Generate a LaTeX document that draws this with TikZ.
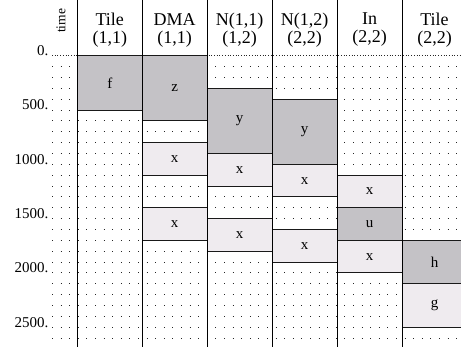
\documentclass[tikz,border=0pt]{standalone}
\usepackage{fontspec}
\setmainfont{Liberation Serif}
\definecolor{boxgray}{HTML}{C4C2C6}
\definecolor{boxlight}{HTML}{EFEBEF}
\tikzset{
  gridrow/.style={line width=0.8pt, black!85, dash pattern=on 0.9pt off 7.7pt},
  zerorow/.style={line width=0.8pt, black!85, dash pattern=on 0.9pt off 1.8pt},
  colline/.style={line width=0.9pt, black},
  boxline/.style={line width=0.9pt, black!90},
  hdr/.style={font=\fontsize{18}{18}\selectfont, align=center, inner sep=0pt},
  boxlbl/.style={font=\fontsize{15}{15}\selectfont, inner sep=0pt},
  axlbl/.style={font=\fontsize{15}{15}\selectfont, inner sep=0pt, anchor=base east},
}
\newcommand{\colx}[1]{77.3+64.95*(#1-1)}
\newcommand{\tbox}[6]{%
  \draw[boxline, fill=#4] ({\colx{#1}},{ty(#2)}) rectangle ({\colx{#1}+64.95},{ty(#3)});
  \node[boxlbl] (#6) at ({\colx{#1}+32.47},{(ty(#2)+ty(#3))/2}) {#5};}
\begin{document}
\begin{tikzpicture}[x=1pt, y=-1pt, declare function={ty(\t)=55.7+0.1086*\t;}]
\useasboundingbox (0,0) rectangle (461,347);
% grid rows
\draw[zerorow] (52,{ty(0)}) -- (461,{ty(0)});
\foreach \t in {100,200,...,2600} {
  \draw[gridrow] (52,{ty(\t)}) -- (461,{ty(\t)});
}
% axis labels
\node[axlbl] (l0) at (48.5,{ty(0)}) {0.};
\node[axlbl] (l500) at (48.5,{ty(500)}) {500.};
\node[axlbl] (l1000) at (48.5,{ty(1000)}) {1000.};
\node[axlbl] (l1500) at (48.5,{ty(1500)}) {1500.};
\node[axlbl] (l2000) at (48.5,{ty(2000)}) {2000.};
\node[axlbl] (l2500) at (48.5,{ty(2500)}) {2500.};
\node[font=\fontsize{13.5}{13.5}\selectfont, rotate=90, inner sep=0pt] (time) at (61,21) {time};
% boxes
\tbox{1}{0}{500}{boxgray}{f}{f1}
\tbox{2}{0}{600}{boxgray}{z}{z2}
\tbox{2}{800}{1100}{boxlight}{x}{x2a}
\tbox{2}{1400}{1700}{boxlight}{x}{x2b}
\tbox{3}{300}{900}{boxgray}{y}{y3}
\tbox{3}{900}{1200}{boxlight}{x}{x3a}
\tbox{3}{1500}{1800}{boxlight}{x}{x3b}
\tbox{4}{400}{1000}{boxgray}{y}{y4}
\tbox{4}{1000}{1300}{boxlight}{x}{x4a}
\tbox{4}{1600}{1900}{boxlight}{x}{x4b}
\tbox{5}{1100}{1400}{boxlight}{x}{x5a}
\tbox{5}{1400}{1700}{boxgray}{u}{u5}
\tbox{5}{1700}{2000}{boxlight}{x}{x5b}
\tbox{6}{1700}{2100}{boxgray}{h}{h6}
\tbox{6}{2100}{2500}{boxlight}{g}{g6}
% column lines
\foreach \i in {1,...,6} {
  \draw[colline] ({\colx{\i}},0) -- ({\colx{\i}},347);
}
% headers
\node[hdr] (h1) at ({\colx{1}+32.47},30) {Tile\\(1,1)};
\node[hdr] (h2) at ({\colx{2}+32.47},30) {DMA\\(1,1)};
\node[hdr] (h3) at ({\colx{3}+32.47},30) {N(1,1)\\(1,2)};
\node[hdr] (h4) at ({\colx{4}+32.47},30) {N(1,2)\\(2,2)};
\node[hdr] (h5) at ({\colx{5}+32.47},30) {In\\(2,2)};
\node[hdr] (h6) at ({\colx{6}+32.47},30) {Tile\\(2,2)};
\end{tikzpicture}
\end{document}
